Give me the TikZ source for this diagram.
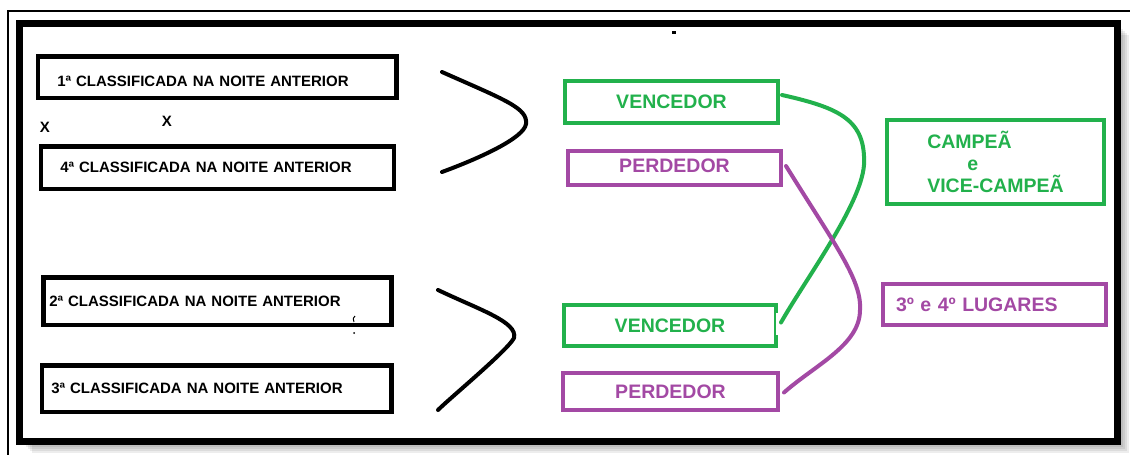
\documentclass[tikz,border=0pt]{standalone}
\usepackage{fontspec}
\setmainfont{Liberation Sans}
\usetikzlibrary{calc}
\definecolor{paintgreen}{RGB}{34,177,76}
\definecolor{paintpurple}{RGB}{163,73,164}

\begin{document}
\begin{tikzpicture}[x=1pt, y=-1pt,
  rank/.style = {draw, line width=4.5pt, anchor=west, align=left, inner ysep=0pt, font=\fontsize{15}{18}\selectfont\bfseries},
  win/.style = {draw=paintgreen, text=paintgreen, line width=4pt, inner sep=0pt, font=\fontsize{19.5}{22}\selectfont\bfseries},
  lose/.style = {win, draw=paintpurple, text=paintpurple},
  versus/.style = {font=\fontsize{15}{18}\selectfont\bfseries, inner sep=0pt},
  stroke/.style = {line width=4pt, line cap=round}]

\useasboundingbox (0,0) rectangle (1130,455);

% frames and shadow
\draw[line width=2pt] (7.8,460) -- (7.8,10.5) -- (1135,10.5);
\foreach \d in {2,4,...,12} {
  \fill[black, opacity=0.07] (19.5+\d,23+\d) rectangle (1117+\d,441+\d);
}
\filldraw[fill=white, line width=7pt] (19.5,23) rectangle (1117,441);

% last night's ranking
\node[rank, text width=319.5pt, inner xsep=19.5pt, minimum height=41.5pt, text height=18.7pt, text depth=0pt] (first) at (35.5,77) {1ª CLASSIFICADA NA NOITE ANTERIOR};
\node[rank, text width=314pt, inner xsep=19.5pt, minimum height=42.5pt] (fourth) at (38.5,167.5) {4ª CLASSIFICADA NA NOITE ANTERIOR};
\node[rank, text width=336pt, inner xsep=6pt, minimum height=47.5pt] (second) at (41,301) {2ª CLASSIFICADA NA NOITE ANTERIOR};
\node[rank, text width=330.5pt, inner xsep=9.5pt, minimum height=46.5pt] (third) at (39.5,388.5) {3ª CLASSIFICADA NA NOITE ANTERIOR};

\node[versus] (versusleft) at (45,127) {X};
\node[versus] (versusright) at (167,121.5) {X};

% braces
\draw[stroke] (442,72) .. controls (505,100) and (528,108) .. (526,124) .. controls (524,138) and (480,158) .. (442,172);
\draw[stroke] (438,290) .. controls (480,310) and (518,322) .. (514,338) .. controls (508,350) and (450,398) .. (438,410);

% semi-finals
\node[win, minimum width=213pt, minimum height=42pt] (winnerA) at (671.5,102) {VENCEDOR};
\node[lose, minimum width=213pt, minimum height=34pt, text height=14pt, text depth=6pt] (loserA) at (674.5,168) {PERDEDOR};
\node[win, minimum width=212pt, minimum height=41pt] (winnerB) at (670,325.5) {VENCEDOR};
\node[lose, minimum width=215pt, minimum height=37pt] (loserB) at (670.5,391.5) {PERDEDOR};
\draw[white, line width=5pt] ($(winnerB.east)+(0,-12.5)$) -- ($(winnerB.east)+(0,9.5)$);

% finals
\node[win, minimum width=217pt, minimum height=84pt, align=left] (final) at (995.5,162) {CAMPEÃ\\\hspace*{40pt}e\\VICE-CAMPEÃ};
\node[lose, minimum width=223pt, minimum height=41pt, text width=197pt, inner xsep=13pt, align=left] (places) at (994.5,304.5) {3º e 4º LUGARES};

\draw[stroke, paintgreen] ($(winnerA.east)+(2,-7)$) .. controls (840,108) and (866,120) .. (864,165) .. controls (861,205) and (805,280) .. ($(winnerB.east)+(3,-3)$);
\draw[stroke, paintpurple] ($(loserA.east)+(3,-2)$) .. controls (835,245) and (862,280) .. (860,310) .. controls (860,345) and (815,365) .. ($(loserB.east)+(4,1)$);

% stray marks
\fill (672,31) rectangle (676,34);
\draw[line width=1pt] (355,316) .. controls (353,318) .. (354,322);
\fill (354,333) circle (1pt);

\end{tikzpicture}
\end{document}
